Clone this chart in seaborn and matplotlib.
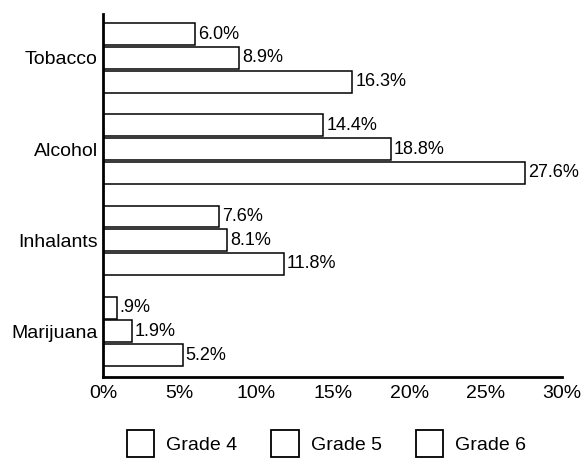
import matplotlib
matplotlib.use("Agg")
import matplotlib.pyplot as plt
import pandas as pd
import seaborn as sns

substances = ['Tobacco', 'Alcohol', 'Inhalants', 'Marijuana']
grades = ['Grade 4', 'Grade 5', 'Grade 6']
grade4 = [6.0, 14.4, 7.6, 0.9]
grade5 = [8.9, 18.8, 8.1, 1.9]
grade6 = [16.3, 27.6, 11.8, 5.2]
xticks = [0, 5, 10, 15, 20, 25, 30]

df = pd.DataFrame({
    'substance': substances * 3,
    'grade': [g for g in grades for _ in substances],
    'pct': grade4 + grade5 + grade6,
})

sns.set_style('white')
plt.rcParams['font.family'] = ['Liberation Sans', 'DejaVu Sans']
plt.rcParams['text.color'] = 'black'
plt.rcParams['xtick.color'] = 'black'
plt.rcParams['ytick.color'] = 'black'

fig = plt.figure(figsize=(5.83, 4.58), dpi=100)
ax = fig.add_axes([0.177, 0.177, 0.787, 0.792])

sns.barplot(data=df, y='substance', x='pct', hue='grade', orient='h',
            order=substances, hue_order=grades,
            palette=['white'] * 3, edgecolor='black', linewidth=1.1,
            width=0.78, gap=0.08, ax=ax, legend=False)

# value labels, ".9%" style for values under 1
for cont in ax.containers:
    labs = [f"{v:.1f}%".lstrip('0') if v < 1 else f"{v:.1f}%" for v in cont.datavalues]
    ax.bar_label(cont, labels=labs, padding=2, fontsize=13, color='black')

ax.set_xlim(0, 30)
ax.set_ylim(3.5, -0.48)
ax.set_xticks(xticks)
ax.set_xticklabels([f"{t}%" for t in xticks], fontsize=14)
ax.tick_params(axis='x', direction='in', length=6, width=1.8, pad=6)
ax.tick_params(axis='y', length=0, labelsize=14, pad=4)
ax.set_xlabel('')
ax.set_ylabel('')
sns.despine(ax=ax)
for s in ['left', 'bottom']:
    ax.spines[s].set_linewidth(2)
    ax.spines[s].set_color('black')

handles = [plt.Rectangle((0, 0), 1, 1, facecolor='white', edgecolor='black', linewidth=1.3)
           for _ in grades]
fig.legend(handles, grades, loc='center', bbox_to_anchor=(0.560, 0.032), ncol=3,
           frameon=False, fontsize=14, handlelength=1.4, handleheight=1.75,
           columnspacing=1.75, handletextpad=0.62, borderpad=0)

fig.savefig('out.png', dpi=100)
